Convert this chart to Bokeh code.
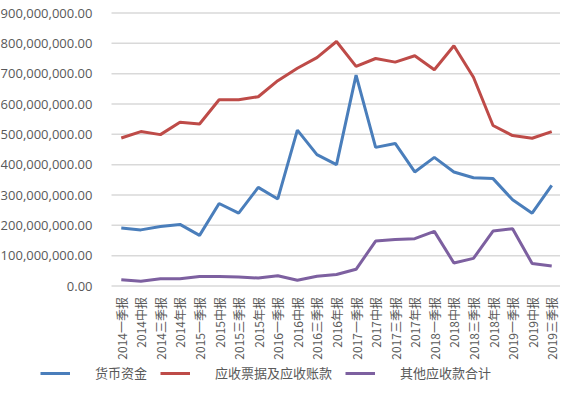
import math
from bokeh.plotting import figure
from bokeh.models import Range1d, Legend, LegendItem, NumeralTickFormatter, FixedTicker
from bokeh.embed import file_html
from bokeh.resources import INLINE

categories = ["2014一季报", "2014中报", "2014三季报", "2014年报",
              "2015一季报", "2015中报", "2015三季报", "2015年报",
              "2016一季报", "2016中报", "2016三季报", "2016年报",
              "2017一季报", "2017中报", "2017三季报", "2017年报",
              "2018一季报", "2018中报", "2018三季报", "2018年报",
              "2019一季报", "2019中报", "2019三季报"]

cash = [191e6, 185e6, 196e6, 203e6, 167e6, 272e6, 240e6, 325e6, 287e6, 514e6, 433e6, 400e6,
        695e6, 457e6, 470e6, 376e6, 424e6, 376e6, 357e6, 354e6, 284e6, 240e6, 332e6]
receivables = [488e6, 509e6, 499e6, 540e6, 534e6, 614e6, 614e6, 624e6, 677e6, 718e6, 753e6, 806e6,
               724e6, 750e6, 738e6, 759e6, 713e6, 792e6, 688e6, 529e6, 496e6, 487e6, 509e6]
other_recv = [21e6, 16e6, 24e6, 24e6, 31e6, 31e6, 30e6, 26e6, 34e6, 19e6, 32e6, 38e6,
              55e6, 148e6, 153e6, 156e6, 180e6, 76e6, 91e6, 181e6, 189e6, 74e6, 66e6]

series_names = ["货币资金", "应收票据及应收账款", "其他应收款合计"]
series_colors = ["#4a7ebb", "#be4b48", "#7d60a0"]
y_ticks = [0, 100e6, 200e6, 300e6, 400e6, 500e6, 600e6, 700e6, 800e6, 900e6]

idx = list(range(len(categories)))
n = len(categories)

# frame covers the whole figure; the axes are drawn at fixed data locations
W, H = 560, 381
plot_left_px, plot_w_px = 111, 450
top_px, zero_px = 12.5, 285.5
ux = plot_w_px / n
x0 = -0.5 - plot_left_px / ux
uy = 900e6 / (zero_px - top_px)
y1 = 900e6 + top_px * uy
y0 = -(H - zero_px) * uy

p = figure(width=W, height=H, output_backend="svg", toolbar_location=None,
           x_range=Range1d(x0, x0 + W / ux), y_range=Range1d(y0, y1),
           min_border_left=0, min_border_right=0, min_border_top=0, min_border_bottom=0)
p.outline_line_color = None
p.grid.visible = False

# horizontal gridlines across the plotting area only
p.segment(x0=-0.5, x1=n - 0.5, y0=y_ticks, y1=y_ticks, line_color="#d9d9d9", line_width=1.5)

rs = []
for vals, col in zip([cash, receivables, other_recv], series_colors):
    rs.append(p.line(idx, vals, line_color=col, line_width=3))

p.yaxis.fixed_location = -0.5
p.yaxis.ticker = FixedTicker(ticks=y_ticks)
p.yaxis.formatter = NumeralTickFormatter(format="0,0.00")
p.yaxis.axis_line_color = None
p.yaxis.major_tick_line_color = None
p.yaxis.minor_tick_line_color = None
p.yaxis.major_label_text_font = "Open Sans"
p.yaxis.major_label_text_font_size = "13px"
p.yaxis.major_label_text_color = "#595959"
p.yaxis.major_label_standoff = 13

p.xaxis.fixed_location = 0
p.xaxis.ticker = FixedTicker(ticks=idx)
p.xaxis.major_label_overrides = {i: c for i, c in zip(idx, categories)}
p.xaxis.axis_line_color = None
p.xaxis.major_tick_line_color = None
p.xaxis.minor_tick_line_color = None
p.xaxis.major_label_orientation = math.pi / 2
p.xaxis.major_label_text_font = "Noto Sans CJK SC"
p.xaxis.major_label_text_font_size = "12px"
p.xaxis.major_label_text_color = "#595959"
p.xaxis.major_label_standoff = 5

legend = Legend(items=[LegendItem(label=nm, renderers=[r]) for nm, r in zip(series_names, rs)],
                orientation="horizontal", location=(40, -1),
                border_line_color=None, background_fill_alpha=0,
                padding=0, margin=0, spacing=13,
                glyph_width=30, glyph_height=14, label_height=14, label_standoff=25,
                label_text_font="Noto Sans CJK SC", label_text_font_size="13px",
                label_text_color="#595959")
p.add_layout(legend, "center")

open("out.html", "w").write(file_html(p, INLINE))
